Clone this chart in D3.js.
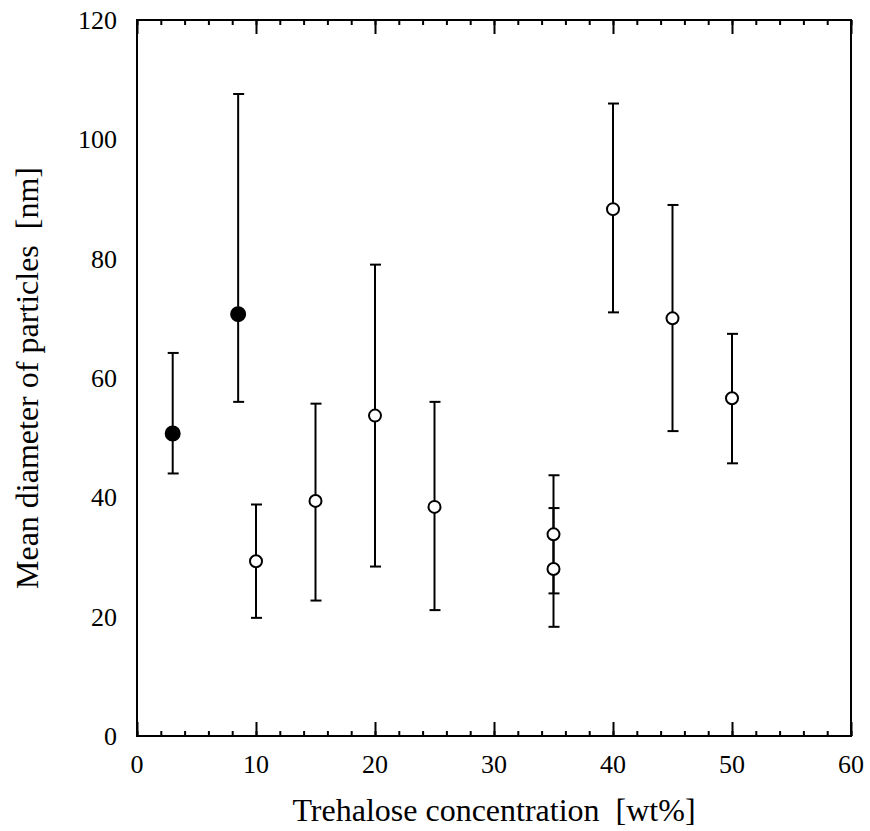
<!DOCTYPE html>
<html>
<head>
<meta charset="utf-8">
<script src="https://cdn.jsdelivr.net/npm/d3@7"></script>
<style>
  body { margin: 0; background: #fff; }
  text { font-family: "Liberation Serif", "Times New Roman", serif; fill: #000; white-space: pre; }
</style>
</head>
<body>
<div id="chart"></div>
<script>
// Datos
const concentracion = [3, 8.5, 10, 15, 20, 25, 35, 35, 40, 45, 50];
const diametro = [50.7, 70.7, 29.3, 39.4, 53.7, 38.4, 33.8, 28.0, 88.3, 70.0, 56.6];
const errorSup = [64.2, 107.6, 38.8, 55.7, 79.0, 56.0, 43.7, 38.2, 106.0, 89.0, 67.4];
const errorInf = [44.0, 56.0, 19.8, 22.7, 28.4, 21.1, 23.9, 18.3, 71.0, 51.1, 45.7];
const relleno = [true, true, false, false, false, false, false, false, false, false, false];

const xTicks = [0, 10, 20, 30, 40, 50, 60];
const yTicks = [0, 20, 40, 60, 80, 100, 120];

const width = 870;
const height = 831;
const margin = { top: 20, right: 19, bottom: 95, left: 137 };

const svg = d3.select('#chart').append('svg')
  .attr('width', width)
  .attr('height', height);

const x = d3.scaleLinear().domain([0, 60]).range([margin.left, width - margin.right]);
const y = d3.scaleLinear().domain([0, 120]).range([height - margin.bottom, margin.top]);

const puntos = concentracion.map((c, i) => ({
  c, d: diametro[i], sup: errorSup[i], inf: errorInf[i], lleno: relleno[i]
}));

// Ejes: ticks hacia adentro
const minorTicks = d3.range(0, 61, 2);
const ejeAbajo = svg.append('g').attr('transform', `translate(0,${y(0)})`);
ejeAbajo.call(d3.axisTop(x).tickValues(minorTicks).tickSize(5).tickFormat(''));
ejeAbajo.call(g => g.append('g').call(d3.axisTop(x).tickValues(xTicks).tickSize(14).tickFormat('')));

const ejeArriba = svg.append('g').attr('transform', `translate(0,${y(120)})`);
ejeArriba.call(d3.axisBottom(x).tickValues(minorTicks).tickSize(5).tickFormat(''));
ejeArriba.call(g => g.append('g').call(d3.axisBottom(x).tickValues(xTicks).tickSize(14).tickFormat('')));

svg.selectAll('.domain').remove();
svg.selectAll('.tick line').attr('stroke', '#000').attr('stroke-width', 2);

// Marco
svg.append('rect')
  .attr('x', x(0)).attr('y', y(120))
  .attr('width', x(60) - x(0)).attr('height', y(0) - y(120))
  .attr('fill', 'none').attr('stroke', '#000').attr('stroke-width', 2);

// Etiquetas de los ejes
svg.append('g').selectAll('text')
  .data(xTicks).enter().append('text')
  .attr('x', d => x(d))
  .attr('y', y(0) + 37)
  .attr('text-anchor', 'middle')
  .style('font-size', '26px')
  .text(d => d);

svg.append('g').selectAll('text')
  .data(yTicks).enter().append('text')
  .attr('x', x(0) - 20)
  .attr('y', d => y(d) + 9)
  .attr('text-anchor', 'end')
  .style('font-size', '26px')
  .text(d => d);

svg.append('text')
  .attr('x', 494)
  .attr('y', 821)
  .attr('text-anchor', 'middle')
  .style('font-size', '32px')
  .text('Trehalose concentration  [wt%]');

svg.append('text')
  .attr('transform', `translate(38,${(y(0) + y(120)) / 2}) rotate(-90)`)
  .attr('text-anchor', 'middle')
  .style('font-size', '32px')
  .text('Mean diameter of particles  [nm]');

// Barras de error
const barras = svg.append('g');
barras.selectAll('line.vert')
  .data(puntos).enter().append('line')
  .attr('class', 'vert')
  .attr('x1', d => x(d.c)).attr('x2', d => x(d.c))
  .attr('y1', d => y(d.sup)).attr('y2', d => y(d.inf))
  .attr('stroke', '#000').attr('stroke-width', 2);

const caps = puntos.flatMap(d => [{ c: d.c, v: d.sup }, { c: d.c, v: d.inf }]);
barras.selectAll('line.cap')
  .data(caps).enter().append('line')
  .attr('class', 'cap')
  .attr('x1', d => x(d.c) - 5).attr('x2', d => x(d.c) + 6)
  .attr('y1', d => y(d.v)).attr('y2', d => y(d.v))
  .attr('stroke', '#000').attr('stroke-width', 2);

// Puntos
svg.append('g').selectAll('circle')
  .data(puntos).enter().append('circle')
  .attr('cx', d => x(d.c))
  .attr('cy', d => y(d.d))
  .attr('r', d => d.lleno ? 7 : 6)
  .attr('fill', d => d.lleno ? '#000' : '#fff')
  .attr('stroke', '#000')
  .attr('stroke-width', 2);
</script>
</body>
</html>
